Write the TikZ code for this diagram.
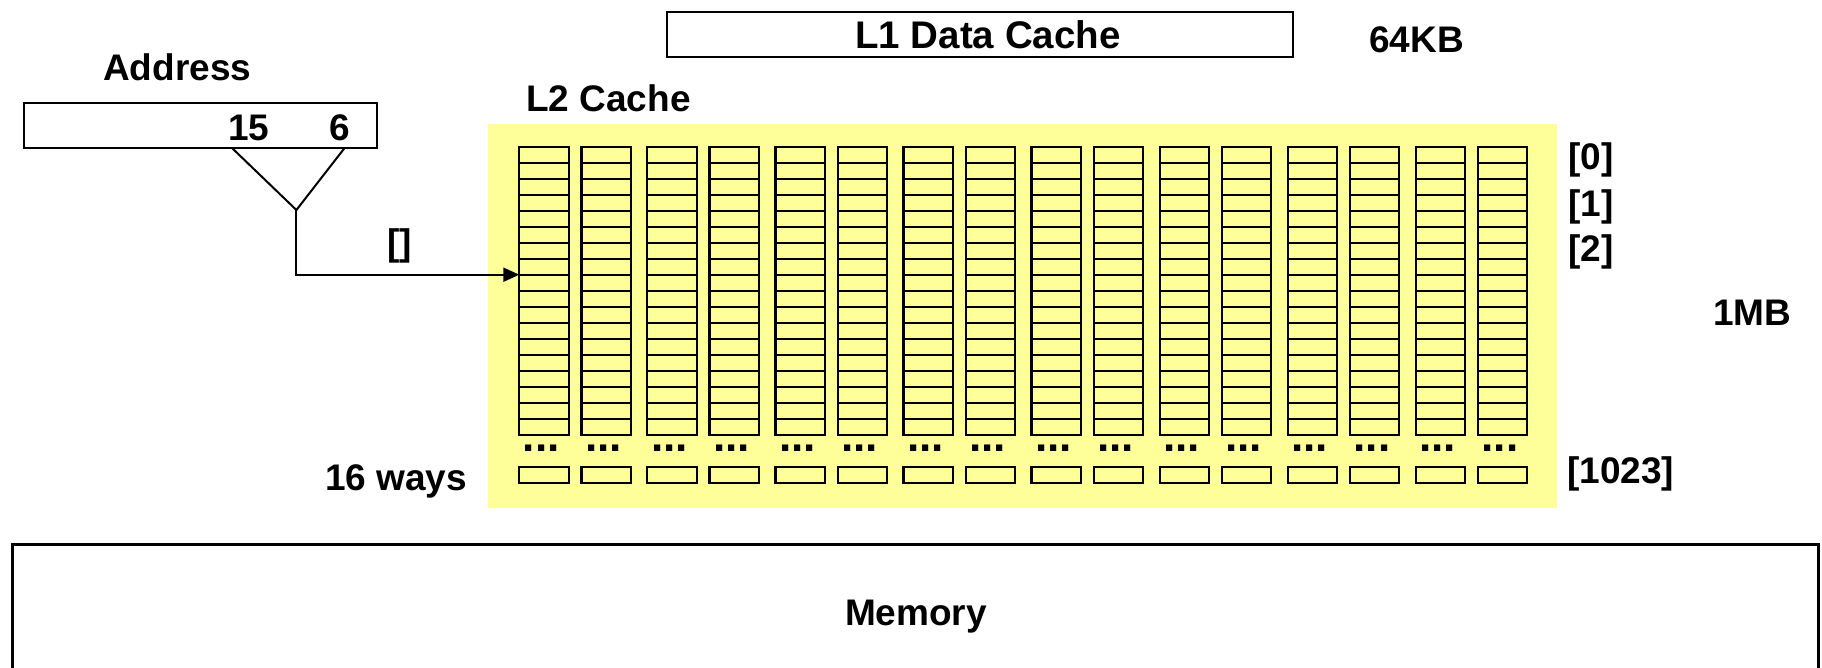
\documentclass[tikz,border=0pt]{standalone}
\usepackage{fontspec}
\setmainfont{Liberation Sans}
\usetikzlibrary{arrows.meta}
\definecolor{cachebg}{HTML}{FFFF99}
\begin{document}
\begin{tikzpicture}[x=1pt,y=-1pt,
  lbl/.style={inner sep=0pt, font=\fontsize{37}{40}\selectfont\bfseries},
  dotrow/.style={inner sep=0pt, font=\fontsize{44}{48}\selectfont\bfseries},
  box/.style={draw=black, line width=2.5pt},
  cell/.style={draw=black, line width=2.2pt},
  wire/.style={draw=black, line width=2pt},
  >={Triangle[length=16pt,width=14pt]}]
\useasboundingbox (0,0) rectangle (1822,667);
\fill[white] (0,0) rectangle (1822,667);

% L1 data cache
\draw[box] (667,12) rectangle (1293,57);
\node[lbl, anchor=base, font=\fontsize{38.5}{42}\selectfont\bfseries] (l1) at (988,48) {L1 Data Cache};
\node[lbl, anchor=base west] (l1size) at (1369,52) {64KB};

% address register and index field
\node[lbl, anchor=base west] (addr) at (103,80) {Address};
\draw[box] (24,103) rectangle (377,148);
\node[lbl, anchor=base west] (b15) at (228,140) {15};
\node[lbl, anchor=base west] (b6) at (329,140) {6};
\coordinate (fl) at (232,148);
\coordinate (fr) at (344.6,148);
\coordinate (apex) at (296.4,210);
\draw[wire] (fl) -- (apex) -- (fr);

% L2 cache body
\node[lbl, anchor=base west] (l2) at (526,111) {L2 Cache};
\fill[cachebg] (488,124) rectangle (1557,508);
\foreach \k in {0,...,7} {
  \foreach \d in {0,62.2} {
    \pgfmathsetmacro{\xl}{519.3+128.06*\k+\d}
    \draw[cell] (\xl,146.7) rectangle ++(49.3,288);
    \foreach \r in {1,...,17} \draw[cell] (\xl,146.7+16*\r) -- ++(49.3,0);
    \draw[cell] (\xl,466.7) rectangle ++(49.3,16);
    \node[dotrow] at (\xl+22,448.3) {...};
  }
}
\coordinate (set) at (519.3,274.7);
\draw[wire,->] (apex) |- (set);
\node[lbl, anchor=west] (idx) at (387,246) {[]};

% set indices and sizes
\node[lbl, anchor=west] (s0) at (1568,160) {[0]};
\node[lbl, anchor=west] (s1) at (1568,206.7) {[1]};
\node[lbl, anchor=west] (s2) at (1568,251.7) {[2]};
\node[lbl, anchor=west] (slast) at (1567,474) {[1023]};
\node[lbl, anchor=base west] (l2size) at (1713,325) {1MB};
\node[lbl, anchor=base west] (ways) at (325,490) {16 ways};

% main memory
\draw[line width=3pt] (12,544) rectangle (1818,720);
\node[lbl, anchor=base] (mem) at (916,625) {Memory};
\end{tikzpicture}
\end{document}
